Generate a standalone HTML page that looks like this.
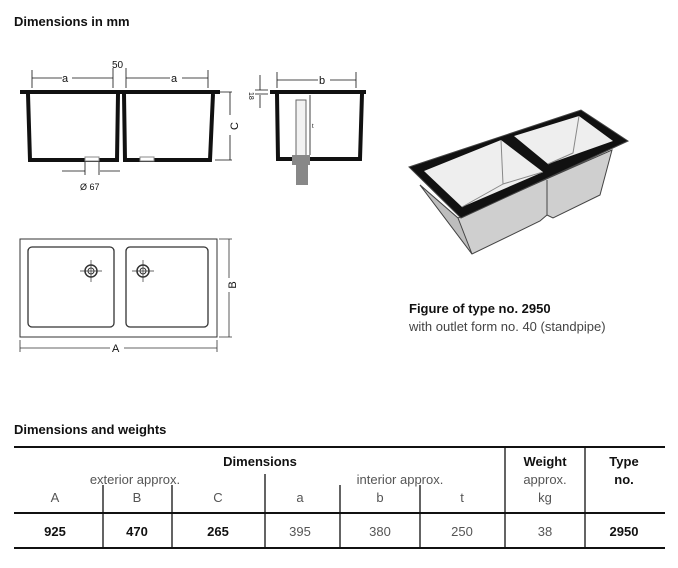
<!DOCTYPE html>
<html><head><meta charset="utf-8"><style>
body{margin:0;background:#fff;width:678px;height:568px;overflow:hidden;font-family:"Liberation Sans",sans-serif;}
svg{position:absolute;left:0;top:0}
</style></head><body>
<svg width="678" height="568" viewBox="0 0 678 568" font-family="Liberation Sans, sans-serif">
<text x="14" y="26" font-size="13" font-weight="bold" fill="#111">Dimensions in mm</text>
<!-- front view -->
<g stroke="#111" fill="none">
<rect x="20" y="90" width="200" height="4" fill="#111" stroke="none"/>
<path d="M28 94 L30 160 L117 160 L118 94" stroke-width="4"/>
<path d="M124 94 L125 160 L210 160 L213 94" stroke-width="4"/>
<rect x="85" y="157" width="14" height="4" fill="#fff" stroke="#888" stroke-width="1"/>
<rect x="140" y="157" width="14" height="4" fill="#fff" stroke="#888" stroke-width="1"/>
<g stroke-width="0.8">
<path d="M32 70 V88 M113 68 V88 M126 68 V88 M208 70 V88"/>
<path d="M32 78 H62 M72 78 H113 M126 78 H170 M182 78 H208"/>
<path d="M215 92 H232 M215 160 H232 M230 92 V115 M230 135 V160"/>
<path d="M62 171 H85 M100 171 H120 M85 162 V175 M99 162 V175"/>
</g>
</g>
<text x="62" y="82" font-size="11" fill="#111">a</text>
<text x="171" y="82" font-size="11" fill="#111">a</text>
<text x="112" y="68" font-size="10" fill="#111">50</text>
<text x="235" y="126" font-size="11" fill="#111" transform="rotate(-90 235 126)" text-anchor="middle" dominant-baseline="middle">C</text>
<text x="80" y="190" font-size="9" fill="#111">Ø 67</text>
<!-- side view -->
<g stroke="#111" fill="none">
<rect x="270" y="90" width="96" height="4" fill="#111" stroke="none"/>
<path d="M277 94 L278 159 L360 159 L362 94" stroke-width="4"/>
<rect x="296" y="100" width="10" height="57" stroke="#666" stroke-width="1" fill="#f2f2f2"/>
<rect x="292" y="155" width="18" height="10" fill="#888" stroke="none"/>
<rect x="296" y="165" width="12" height="20" fill="#888" stroke="none"/>
<g stroke-width="0.8">
<path d="M277 72 V88 M356 72 V88 M277 80 H318 M330 80 H356"/>
<path d="M260 75 V90 M260 95 V108 M255 90 H268 M255 94 H268"/>
<path d="M310 95 V155"/>
</g>
</g>
<text x="319" y="84" font-size="11" fill="#111">b</text>
<text x="249" y="92" font-size="7" fill="#111" transform="rotate(90 249 92)">18</text>
<text x="312" y="128" font-size="6" fill="#111">t</text>
<!-- plan view -->
<g stroke="#333" fill="none" stroke-width="1">
<rect x="20" y="239" width="197" height="98"/>
<rect x="28" y="247" width="86" height="80" rx="4" stroke-width="1.3"/>
<rect x="126" y="247" width="82" height="80" rx="4" stroke-width="1.3"/>
<circle cx="91" cy="271" r="6" stroke-width="1.5"/><circle cx="91" cy="271" r="3"/>
<circle cx="143" cy="271" r="6" stroke-width="1.5"/><circle cx="143" cy="271" r="3"/>
<path d="M80 271 H102 M91 260 V282 M132 271 H154 M143 260 V282" stroke-width="0.7"/>
<g stroke-width="0.8">
<path d="M219 239 H232 M219 337 H232 M229 239 V278 M229 292 V337"/>
<path d="M20 340 V352 M217 340 V352 M20 348 H110 M124 348 H217"/>
</g>
</g>
<text x="233" y="285" font-size="11" fill="#111" transform="rotate(-90 233 285)" text-anchor="middle" dominant-baseline="middle">B</text>
<text x="112" y="352" font-size="11" fill="#111">A</text>
<!-- 3D -->
<g stroke="#444" stroke-width="1">
<path d="M420 185 L472 254 L540 221 L547 215 L553 218 L600 195 L612 150 L458 218 Z" fill="#cfcfcf"/>
<path d="M420 185 L458 218 L472 254 Z" fill="#bdbdbd"/>
<path d="M547 180 L547 215" fill="none"/>
<path d="M458 218 L540 221" fill="none" stroke="none"/>
<path d="M409 167 L581 110 L628 141 L461 218 Z" fill="#111"/>
<path d="M424 171 L501 140 L543 172 L462 207 Z" fill="#eee" stroke="none"/>
<path d="M514 136 L579 116 L613 141 L548 164 Z" fill="#eee" stroke="none"/>
<path d="M501 140 L503 184 L462 207 M503 184 L543 172 M579 116 L573 153 L548 164" fill="none" stroke="#888"/>
</g>
<text x="409" y="313" font-size="13" font-weight="bold" fill="#111">Figure of type no. 2950</text>
<text x="409" y="331" font-size="13" fill="#444">with outlet form no. 40 (standpipe)</text>
<!-- table -->
<text x="14" y="434" font-size="13" font-weight="bold" fill="#111">Dimensions and weights</text>
<g stroke="#111">
<path d="M14 447 H665 M14 513 H665 M14 548 H665" stroke-width="2"/>
<path d="M505 447 V548 M585 447 V548 M265 474 V548" stroke-width="1.3"/>
<path d="M103 485 V548 M172 485 V548 M340 485 V548 M420 485 V548" stroke-width="1.3"/>
</g>
<g font-size="13" text-anchor="middle">
<text x="260" y="466" font-weight="bold" fill="#111">Dimensions</text>
<text x="545" y="466" font-weight="bold" fill="#111">Weight</text>
<text x="624" y="466" font-weight="bold" fill="#111">Type</text>
<text x="624" y="484" font-weight="bold" fill="#111">no.</text>
<g fill="#555">
<text x="135" y="484">exterior approx.</text>
<text x="400" y="484">interior approx.</text>
<text x="545" y="484">approx.</text>
<text x="545" y="502">kg</text>
<text x="55" y="502">A</text><text x="137" y="502">B</text><text x="218" y="502">C</text>
<text x="300" y="502">a</text><text x="380" y="502">b</text><text x="462" y="502">t</text>
<text x="300" y="536">395</text><text x="380" y="536">380</text><text x="462" y="536">250</text><text x="545" y="536">38</text>
</g>
<g fill="#111" font-weight="bold">
<text x="55" y="536">925</text><text x="137" y="536">470</text><text x="218" y="536">265</text><text x="624" y="536">2950</text>
</g>
</g>
</svg>
</body></html>
